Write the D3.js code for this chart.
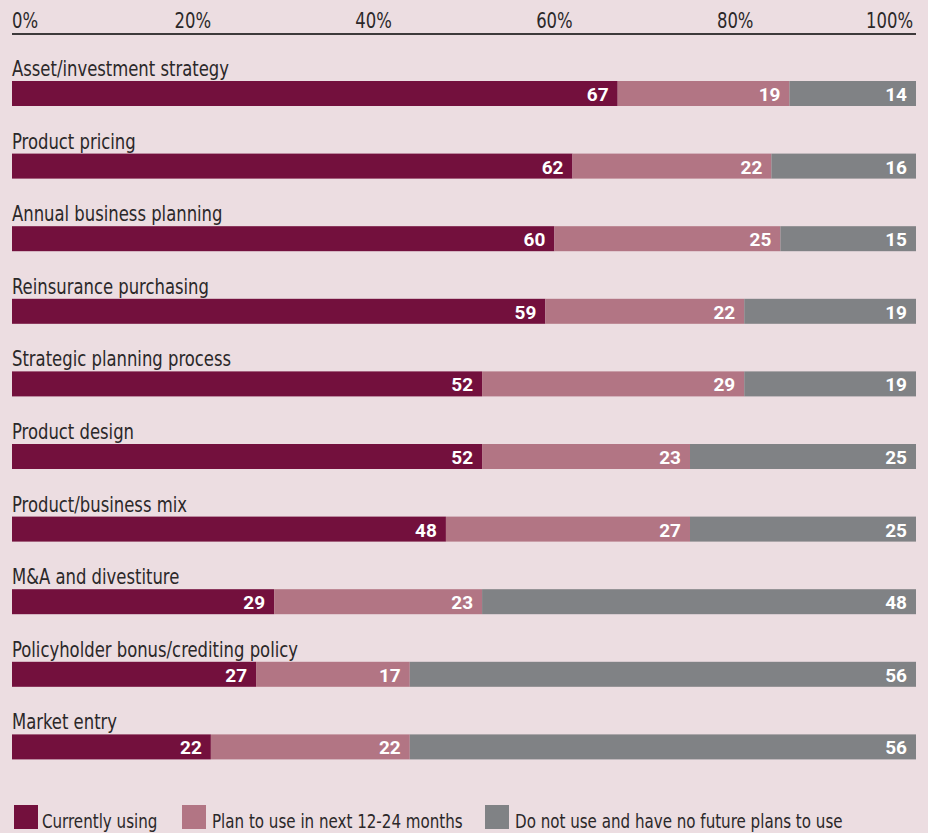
<!DOCTYPE html>
<html>
<head>
<meta charset="utf-8">
<script src="https://cdn.jsdelivr.net/npm/d3@7"></script>
<style>
  html, body { margin: 0; padding: 0; background: #ecdde1; }
  svg { display: block; }
  .cond { font-family: "DejaVu Sans Condensed", "Liberation Sans Narrow", "Arial Narrow", sans-serif; font-stretch: condensed; }
</style>
</head>
<body>
<svg id="chart" width="928" height="833"></svg>
<script>
// Survey uses, percent of respondents
const categories = [
  "Asset/investment strategy",
  "Product pricing",
  "Annual business planning",
  "Reinsurance purchasing",
  "Strategic planning process",
  "Product design",
  "Product/business mix",
  "M&A and divestiture",
  "Policyholder bonus/crediting policy",
  "Market entry"
];
const currentlyUsing = [67, 62, 60, 59, 52, 52, 48, 29, 27, 22];
const planToUse      = [19, 22, 25, 22, 29, 23, 27, 23, 17, 22];
const doNotUse       = [14, 16, 15, 19, 19, 25, 25, 48, 56, 56];
const seriesNames = [
  "Currently using",
  "Plan to use in next 12-24 months",
  "Do not use and have no future plans to use"
];
const tickValues = [0, 20, 40, 60, 80, 100];

const colors = ["#73103d", "#b27584", "#808285"];

const svg = d3.select("#chart");
const left = 12, right = 916;
const squeeze = 0.87; // horizontal compression for the narrow label face

const x = d3.scaleLinear().domain([0, 100]).range([left, right]);
const y = d3.scaleBand().domain(categories).range([81, 81 + 72.6 * categories.length]).paddingInner(0).paddingOuter(0);
const barH = 25;

// text placed at (px, py), squeezed horizontally around its anchor
function narrowText(sel, px, py) {
  return sel.attr("x", 0).attr("y", 0)
    .attr("transform", (d, i) => `translate(${typeof px === "function" ? px(d, i) : px},${typeof py === "function" ? py(d, i) : py}) scale(${squeeze},1)`);
}

// Top axis: percentage labels and a rule underneath
const axisG = svg.append("g").attr("class", "cond");
axisG.append("line")
  .attr("x1", left).attr("x2", right)
  .attr("y1", 34).attr("y2", 34)
  .attr("stroke", "#3d3a3b").attr("stroke-width", 2);
axisG.selectAll("text.tick")
  .data(tickValues)
  .join("text")
  .attr("class", "tick")
  .call(narrowText, (d, i) => i === tickValues.length - 1 ? x(d) - 3 : x(d), 28)
  .attr("text-anchor", (d, i) => i === 0 ? "start" : (i === tickValues.length - 1 ? "end" : "middle"))
  .attr("font-size", 21)
  .attr("fill", "#2b2829")
  .text(d => d + "%");

// Stacked rows
const rows = categories.map((c, i) => ({ category: c, values: [currentlyUsing[i], planToUse[i], doNotUse[i]] }));
const stack = d3.stack().keys([0, 1, 2]).value((d, k) => d.values[k]);
const stacked = stack(rows);

const rowG = svg.append("g");

rowG.selectAll("text.cat")
  .data(categories)
  .join("text")
  .attr("class", "cat cond")
  .call(narrowText, left, d => y(d) - 5)
  .attr("font-size", 21)
  .attr("fill", "#2b2829")
  .text(d => d);

stacked.forEach((layer, k) => {
  const g = rowG.append("g");
  g.selectAll("rect")
    .data(layer)
    .join("rect")
    .attr("x", d => x(d[0]))
    .attr("width", d => x(d[1]) - x(d[0]))
    .attr("y", d => y(d.data.category))
    .attr("height", barH)
    .attr("fill", colors[k]);
  g.selectAll("text")
    .data(layer)
    .join("text")
    .attr("x", d => x(d[1]) - 9)
    .attr("y", d => y(d.data.category) + 20)
    .attr("text-anchor", "end")
    .attr("font-family", "Roboto, 'Liberation Sans', Arial, sans-serif")
    .attr("font-weight", "bold")
    .attr("font-size", 19)
    .attr("fill", "#ffffff")
    .text(d => d.data.values[k]);
});

// Legend
const legendX = [14, 182, 485];
const legendGap = [28, 30, 30];
const legend = svg.append("g").attr("class", "cond");
seriesNames.forEach((name, k) => {
  legend.append("rect")
    .attr("x", legendX[k]).attr("y", 805)
    .attr("width", 24).attr("height", 24)
    .attr("fill", colors[k]);
  legend.append("text")
    .datum(name)
    .call(narrowText, legendX[k] + legendGap[k], 828)
    .attr("font-size", 19.3)
    .attr("fill", "#2b2829")
    .text(name);
});
</script>
</body>
</html>
